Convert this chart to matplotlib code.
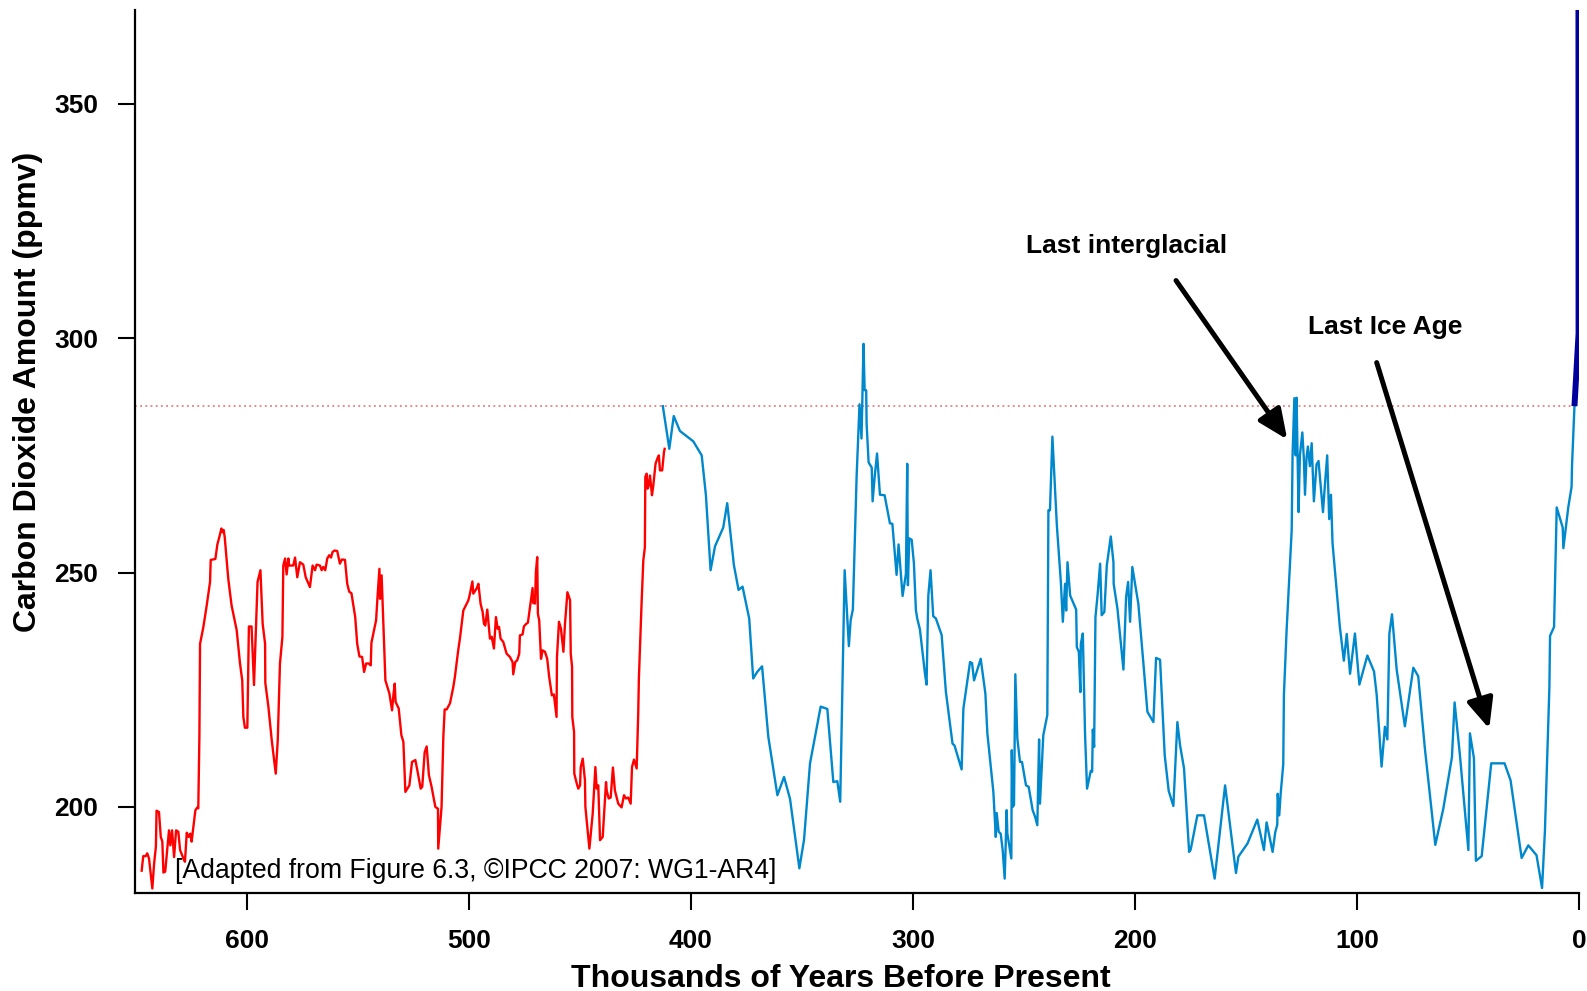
import matplotlib
matplotlib.use("Agg")
import matplotlib.pyplot as plt

# ---------------- data ----------------
red_x = [647.5, 646.8, 645.7, 645.0, 644.2, 642.7, 641.9, 641.1, 640.8, 639.7, 638.9, 638.2, 637.7, 636.9,
         635.9, 635.2, 634.6, 633.8, 632.9, 632.0, 631.0, 630.2, 628.7, 628.0, 627.2, 626.3, 625.6, 625.0,
         623.3, 622.4, 622.0, 621.5, 621.2, 619.7, 618.2, 616.7, 616.4, 614.3, 613.4, 612.5, 611.6, 611.0,
         610.6, 610.1, 608.5, 607.0, 604.7, 603.2, 602.2, 601.7, 601.0, 599.9, 599.2, 598.0, 596.9, 595.3,
         594.0, 593.0, 591.9, 591.8, 590.4, 588.9, 587.1, 586.2, 585.2, 584.1, 583.7, 582.9, 582.2, 581.4,
         581.1, 579.2, 578.4, 577.4, 576.2, 574.7, 573.6, 571.7, 570.5, 569.4, 568.7, 567.2, 566.4, 565.7,
         564.8, 563.9, 563.0, 562.2, 561.5, 560.6, 559.4, 558.2, 557.3, 555.9, 554.9, 554.0, 553.0, 551.3,
         550.4, 549.4, 548.2, 547.3, 546.4, 545.2, 544.3, 544.0, 541.9, 541.3, 540.4, 540.1, 539.4, 537.7,
         535.9, 534.7, 534.1, 533.5, 533.1, 531.7, 530.5, 529.6, 528.7, 526.9, 525.7, 524.2, 523.3, 521.8,
         521.1, 520.0, 519.1, 518.1, 516.9, 515.2, 514.0, 513.9, 512.4, 511.6, 511.0, 510.1, 508.6, 507.1,
         506.4, 504.9, 504.1, 502.6, 500.3, 499.6, 498.5, 498.1, 496.6, 495.8, 494.8, 493.9, 493.3, 492.7,
         491.8, 490.6, 489.8, 488.8, 487.9, 487.1, 486.5, 485.8, 484.6, 483.1, 481.6, 480.4, 480.1, 479.2,
         478.3, 477.4, 477.1, 475.9, 475.3, 474.4, 473.5, 472.3, 471.4, 471.1, 470.3, 469.9, 469.3, 469.0,
         468.4, 467.6, 466.9, 465.8, 464.8, 463.9, 462.7, 461.8, 460.6, 460.4, 459.5, 458.6, 457.5, 456.8,
         455.7, 454.5, 454.2, 453.6, 453.5, 452.7, 452.6, 451.5, 450.8, 450.0, 449.7, 448.8, 447.8, 447.6,
         445.8, 444.3, 443.1, 442.5, 441.8, 441.0, 439.8, 438.3, 438.0, 437.1, 436.2, 435.2, 434.3, 432.8,
         431.3, 430.2, 429.3, 428.3, 427.2, 426.6, 425.7, 424.5, 423.8, 423.5, 422.3, 421.5, 420.8, 420.6,
         420.0, 419.6, 419.0, 418.5, 417.6, 417.0, 416.0, 415.2, 414.5, 414.0, 413.0, 412.2, 411.9]
red_y = [186.4, 189.5, 189.5, 190.1, 189.0, 182.6, 187.9, 191.5, 199.2, 198.9, 193.6, 192.6, 186.0, 186.2,
         191.5, 195.0, 191.8, 195.0, 189.3, 195.0, 194.7, 190.8, 189.0, 188.3, 194.5, 193.6, 194.3, 192.6,
         199.3, 199.9, 199.7, 214.9, 234.8, 238.4, 243.0, 248.0, 252.7, 252.9, 256.0, 257.6, 259.4, 258.6,
         259.1, 257.6, 248.7, 243.0, 237.7, 230.6, 227.0, 219.2, 216.9, 216.9, 238.5, 238.5, 226.0, 248.0,
         250.5, 239.1, 234.8, 226.5, 221.3, 214.2, 207.1, 214.2, 230.6, 236.3, 251.5, 253.0, 249.6, 253.0,
         251.5, 251.5, 253.2, 249.0, 252.2, 251.7, 249.0, 246.9, 251.5, 250.5, 251.7, 251.5, 250.5, 251.2,
         250.5, 253.0, 253.7, 253.2, 254.4, 254.7, 254.6, 251.9, 252.8, 252.7, 247.6, 245.9, 245.6, 240.5,
         234.8, 232.1, 232.0, 228.8, 230.6, 230.6, 230.2, 235.0, 239.8, 244.4, 250.8, 244.4, 249.4, 227.0,
         224.2, 220.6, 223.8, 226.3, 222.4, 221.0, 215.3, 213.9, 203.2, 204.6, 209.6, 210.0, 207.8, 203.9,
         204.3, 211.7, 212.9, 206.8, 204.3, 200.0, 199.6, 191.1, 200.0, 214.9, 220.8, 220.8, 222.1, 225.6,
         227.7, 233.4, 236.0, 241.9, 244.1, 245.5, 248.1, 245.5, 246.6, 247.6, 243.3, 241.6, 239.1, 238.7,
         242.1, 235.9, 236.3, 233.8, 240.5, 238.0, 238.4, 235.9, 235.2, 232.7, 232.0, 230.9, 228.3, 230.9,
         231.3, 232.7, 236.6, 236.8, 238.5, 239.0, 239.3, 243.5, 246.7, 243.5, 243.4, 250.1, 253.3, 241.2,
         239.8, 231.6, 233.4, 233.1, 231.6, 227.7, 223.8, 224.0, 219.2, 232.0, 239.5, 238.0, 233.1, 239.0,
         245.8, 244.1, 232.7, 229.9, 219.2, 216.0, 207.1, 205.0, 203.9, 204.6, 208.5, 210.3, 205.7, 200.0,
         191.1, 198.6, 208.5, 203.9, 204.6, 192.9, 193.6, 205.3, 203.5, 201.8, 202.0, 208.4, 203.5, 200.7,
         199.9, 202.5, 201.8, 202.0, 200.7, 208.5, 210.1, 208.2, 219.9, 227.4, 243.3, 252.6, 255.4, 270.4,
         271.1, 267.9, 268.6, 270.7, 266.5, 268.6, 273.2, 274.3, 275.0, 271.8, 271.8, 275.7, 276.4]

blue_x = [412.7, 409.8, 407.8, 405.0, 399.0, 395.2, 393.3, 391.2, 389.2, 385.5, 383.7, 380.7, 378.6, 376.8,
          373.8, 372.0, 370.2, 368.0, 365.2, 361.1, 358.1, 355.4, 351.2, 349.1, 346.4, 341.6, 338.6, 335.9,
          334.1, 332.8, 330.8, 328.9, 328.1, 327.1, 325.4, 324.1, 323.2, 322.3, 321.8, 321.1, 320.9, 320.0,
          318.6, 318.2, 317.3, 316.2, 314.9, 312.8, 310.4, 309.3, 307.4, 306.5, 304.7, 303.2, 302.6, 302.3,
          301.7, 300.6, 299.6, 298.7, 298.1, 296.9, 294.6, 293.9, 293.1, 292.1, 290.9, 289.7, 287.1, 285.2,
          282.2, 281.3, 278.1, 277.3, 275.5, 274.3, 273.4, 272.5, 269.5, 267.4, 266.5, 263.8, 262.7, 262.3,
          261.4, 260.5, 259.6, 258.7, 257.8, 257.5, 255.7, 255.5, 255.1, 254.5, 253.9, 253.0, 251.8, 250.9,
          249.1, 247.9, 246.1, 245.0, 244.0, 243.2, 242.8, 241.3, 239.5, 239.0, 238.3, 237.2, 235.2, 233.4,
          232.5, 231.5, 231.0, 230.4, 229.2, 226.5, 226.2, 225.3, 224.6, 224.4, 223.5, 222.5, 221.6, 219.9,
          219.3, 219.0, 218.4, 217.8, 216.8, 215.7, 215.0, 213.8, 212.7, 210.9, 209.7, 209.6, 207.9, 205.2,
          204.0, 203.1, 202.2, 201.2, 198.5, 196.2, 194.4, 191.7, 190.5, 188.7, 186.6, 184.8, 182.7, 180.9,
          179.7, 177.9, 175.6, 174.9, 171.9, 168.9, 164.1, 159.4, 154.5, 153.4, 149.3, 144.9, 141.9, 140.7,
          138.0, 136.8, 135.9, 135.7, 135.0, 134.4, 133.2, 132.9, 131.7, 129.4, 129.0, 128.2, 127.6, 127.2,
          126.3, 125.7, 124.6, 123.9, 123.4, 122.7, 122.1, 121.2, 120.4, 119.4, 118.2, 117.3, 116.1, 115.3,
          114.4, 113.4, 112.5, 111.7, 111.0, 108.9, 107.7, 105.9, 104.6, 103.1, 100.9, 98.9, 95.3, 92.3,
          91.1, 88.9, 87.4, 86.3, 85.4, 84.2, 82.1, 78.4, 74.6, 72.4, 69.4, 64.7, 61.1, 57.2, 56.0, 53.6,
          49.8, 49.1, 47.3, 46.4, 43.8, 39.5, 33.5, 30.8, 25.8, 22.8, 19.1, 16.6, 15.3, 13.3, 13.0, 11.2,
          10.0, 7.3, 7.0, 4.8, 3.3, 3.1, 2.0]
blue_y = [285.5, 276.4, 283.4, 280.2, 278.0, 275.0, 266.5, 250.5, 255.6, 259.6, 264.8, 251.6, 246.3, 247.0,
          240.2, 227.4, 228.8, 230.0, 215.0, 202.5, 206.4, 201.7, 186.9, 193.0, 209.3, 221.4, 220.9, 205.3,
          205.5, 201.1, 250.5, 234.3, 239.8, 242.1, 270.6, 285.9, 278.6, 298.8, 288.9, 288.9, 281.7, 273.5,
          272.4, 265.2, 270.3, 275.4, 266.6, 266.5, 260.5, 260.4, 249.5, 256.0, 245.0, 249.7, 273.2, 247.3,
          257.3, 257.0, 252.0, 242.0, 240.2, 237.9, 228.4, 226.1, 245.1, 250.5, 240.7, 240.2, 236.7, 224.6,
          213.5, 213.1, 208.0, 221.0, 227.0, 230.9, 230.7, 227.0, 231.6, 224.2, 215.7, 203.2, 193.6, 198.7,
          194.7, 194.3, 190.8, 184.7, 199.3, 194.3, 189.0, 212.1, 200.0, 200.4, 228.3, 214.6, 209.6, 209.6,
          204.6, 204.3, 199.3, 197.9, 196.1, 214.4, 200.7, 215.3, 219.6, 263.3, 263.3, 279.0, 260.1, 248.0,
          239.5, 247.6, 241.9, 252.2, 245.1, 242.1, 234.1, 233.1, 224.5, 234.8, 237.0, 215.6, 203.9, 207.7,
          207.5, 216.5, 212.8, 240.5, 245.5, 251.9, 240.9, 241.6, 251.5, 257.7, 252.2, 247.6, 242.3, 229.3,
          244.8, 248.0, 239.5, 251.2, 243.4, 230.6, 220.3, 218.1, 231.8, 231.4, 211.0, 203.4, 200.2, 218.1,
          213.2, 208.2, 190.4, 190.9, 198.2, 198.2, 184.7, 204.6, 185.9, 189.4, 192.2, 197.3, 190.8, 196.7,
          190.4, 194.6, 196.2, 202.8, 198.2, 202.6, 209.1, 223.9, 237.6, 259.0, 275.0, 287.2, 275.0, 287.3,
          262.9, 275.0, 279.9, 274.2, 266.6, 274.6, 276.9, 272.7, 277.6, 265.2, 273.1, 273.8, 267.4, 262.9,
          268.9, 275.0, 261.4, 266.6, 256.3, 244.9, 238.4, 231.2, 236.9, 228.4, 237.0, 226.1, 232.3, 228.9,
          223.9, 208.6, 217.1, 214.4, 236.9, 241.1, 229.3, 217.2, 229.7, 227.9, 212.5, 191.9, 199.6, 210.6,
          222.3, 211.0, 190.8, 215.7, 210.4, 188.5, 189.5, 209.3, 209.3, 205.7, 189.1, 191.8, 189.7, 182.7,
          195.0, 225.5, 236.5, 238.4, 263.9, 259.6, 255.2, 263.9, 268.3, 272.9, 285.5]

modern_x = [2.0, 0.15, 0.2]
modern_y = [285.5, 301.0, 372.0]

preindustrial_level = 285.5

x_ticks = [600, 500, 400, 300, 200, 100, 0]
y_ticks = [200, 250, 300, 350]

# ---------------- figure ----------------
plt.rcParams['font.family'] = ['Liberation Sans', 'DejaVu Sans']

fig = plt.figure(figsize=(15.87, 9.91), dpi=100)
ax = fig.add_axes([0.0848, 0.0992, 0.9101, 0.8906])

ax.axhline(preindustrial_level, color='#E06A6A', linestyle=(0, (1.2, 2.2)), linewidth=1.1, zorder=1)
ax.plot(red_x, red_y, color='#FF0000', linewidth=1.7, zorder=3)
ax.plot(blue_x, blue_y, color='#0088CC', linewidth=1.7, zorder=3)
ax.plot(modern_x, modern_y, color='#00009C', linewidth=4.3, zorder=4, solid_capstyle='butt')

ax.set_xlim(650.7, 0)
ax.set_ylim(181.7, 370.0)
ax.set_xticks(x_ticks)
ax.set_yticks(y_ticks)
ax.set_xticklabels([str(v) for v in x_ticks])
ax.set_yticklabels([str(v) for v in y_ticks])

for s in ['top', 'right']:
    ax.spines[s].set_visible(False)
for s in ['left', 'bottom']:
    ax.spines[s].set_linewidth(1.6)

ax.tick_params(axis='both', direction='out', length=12, width=1.5, labelsize=19)
ax.tick_params(axis='y', pad=14)
ax.tick_params(axis='x', pad=14)
for lab in ax.get_xticklabels() + ax.get_yticklabels():
    lab.set_fontweight('bold')

ax.set_xlabel('Thousands of Years Before Present', fontsize=23, fontweight='bold')
ax.set_ylabel('Carbon Dioxide Amount (ppmv)', fontsize=23, fontweight='bold')
ax.xaxis.set_label_coords(0.489, -0.0805)
ax.yaxis.set_label_coords(-0.0635, 0.567)

ax.text(632.5, 186.4, '[Adapted from Figure 6.3, \u00a9IPCC 2007: WG1-AR4]', fontsize=19.2,
        ha='left', va='center', zorder=5)

arrow_style = '-|>,head_length=1.8,head_width=0.8'
ax.annotate('', xy=(131.4, 278.4), xytext=(181.5, 312.3),
            arrowprops=dict(arrowstyle=arrow_style, lw=3.6,
                            color='black', shrinkA=0, shrinkB=0), zorder=6)
ax.annotate('', xy=(40.4, 216.7), xytext=(91.1, 294.8),
            arrowprops=dict(arrowstyle=arrow_style, lw=3.6,
                            color='black', shrinkA=0, shrinkB=0), zorder=6)
ax.text(203.9, 319.6, 'Last interglacial', fontsize=19, fontweight='bold', ha='center', va='center')
ax.text(87.2, 302.4, 'Last Ice Age', fontsize=19, fontweight='bold', ha='center', va='center')

fig.savefig('out.png', dpi=100)
